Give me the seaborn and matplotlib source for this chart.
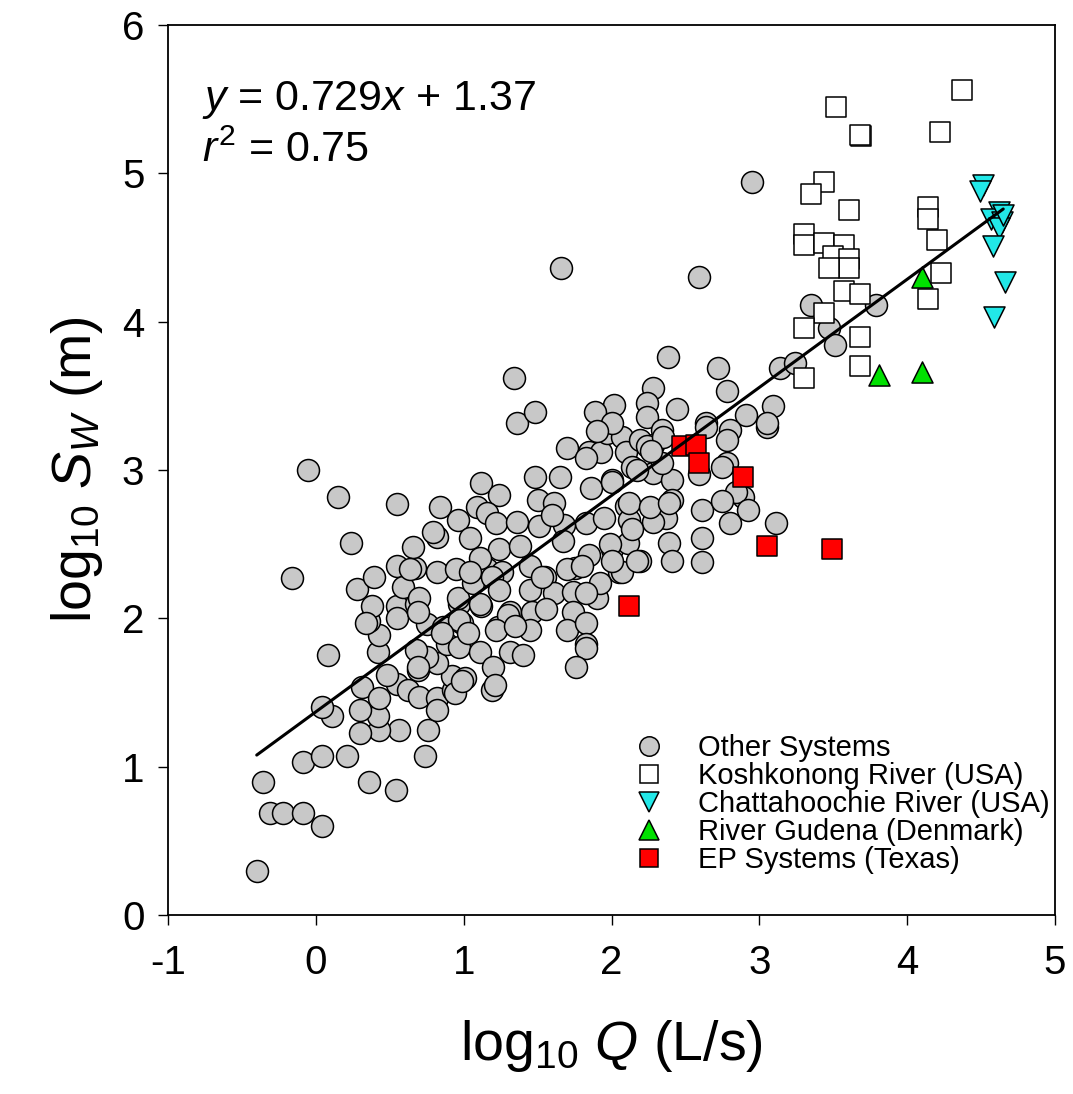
import matplotlib
matplotlib.use("Agg")
import matplotlib.pyplot as plt
from matplotlib.lines import Line2D
import numpy as np
import pandas as pd
import seaborn as sns

# ---- data (log10 Q, log10 Sw) ----
other_x = [-0.05, 0.15, 0.55, 0.24, -0.16, 0.84, 0.08, -0.36, -0.31, -0.22, -0.09, 0.04, -0.40,
           -0.09, 0.04, 0.21, 0.36, 0.54, 0.74, 0.76, 0.56, 0.43, 0.30, 0.42, 0.30, 0.11, 0.04,
           0.31, 0.43, 0.55, 0.62, 0.70, 0.82, 0.82, 0.93, 0.92, 0.82, 0.69, 0.75, 0.48, 0.42,
           0.43, 0.36, 0.38, 0.55, 0.55, 0.68, 0.75, 0.68, 0.86, 0.89, 0.97, 0.28, 0.39, 0.55,
           0.67, 0.66, 0.82, 0.79, 0.82, 0.95, 0.96, 0.59, 0.97, 0.99, 0.34, 0.64, 0.70, 0.69,
           0.97, 0.96, 1.06, 1.16, 1.26, 1.31, 1.23, 1.12, 1.11, 1.20, 1.31, 1.19, 0.94, 0.69,
           1.70, 1.85, 1.93, 1.83, 1.97, 2.07, 2.10, 1.12, 1.48, 1.65, 1.24, 1.09, 1.16, 1.22,
           1.36, 1.50, 1.61, 1.51, 1.68, 1.83, 1.86, 2.00, 2.10, 1.95, 2.12, 1.04, 1.24, 1.38,
           1.67, 1.85, 2.00, 2.11, 1.11, 1.04, 1.19, 1.45, 1.55, 1.75, 2.05, 1.11, 1.24, 1.45,
           1.61, 1.74, 1.90, 1.30, 1.46, 1.56, 1.74, 1.22, 1.45, 1.70, 1.83, 1.83,
           1.34, 1.36, 1.48, 2.38, 2.28, 2.24, 2.44, 2.02, 1.89, 2.00, 2.24, 1.90, 2.34, 2.28,
           2.19, 2.14, 2.28, 2.41, 2.41, 2.37, 2.28, 2.14, 2.39, 2.41, 2.19, 2.07, 1.83, 1.76,
           2.72, 2.78, 2.91, 2.80, 2.64, 2.24, 2.34, 2.78, 2.89, 2.61, 2.80, 2.61, 2.17, 2.12,
           2.26, 2.39, 1.60, 2.78, 3.05, 2.64, 2.75, 2.84, 2.59, 2.75, 2.92, 3.11, 2.61, 2.17,
           1.99, 2.00, 2.35, 2.27, 2.00, 2.95, 2.59, 3.35, 3.47, 3.51, 3.79, 3.14, 3.24, 3.09,
           3.05, 1.66, 1.92, 1.83, 1.70, 1.80, 1.53, 0.85, 1.03, 1.01, 1.21, 0.99, 1.40, 1.35]
other_y = [3.00, 2.82, 2.77, 2.51, 2.27, 2.75, 1.75, 0.90, 0.69, 0.69, 0.69, 0.60, 0.30,
           1.03, 1.07, 1.07, 0.90, 0.84, 1.07, 1.25, 1.25, 1.25, 1.23, 1.34, 1.38, 1.34, 1.40,
           1.54, 1.46, 1.56, 1.52, 1.47, 1.46, 1.38, 1.52, 1.61, 1.70, 1.65, 1.74, 1.62, 1.77,
           1.89, 1.98, 2.08, 2.08, 2.00, 2.10, 1.96, 1.79, 1.94, 1.83, 1.81, 2.20, 2.28, 2.35,
           2.34, 2.48, 2.55, 2.58, 2.31, 2.33, 2.66, 2.21, 2.10, 1.97, 1.97, 2.33, 2.14, 2.04,
           1.99, 2.14, 2.24, 2.33, 2.31, 2.04, 1.94, 2.08, 1.77, 1.67, 1.77, 1.52, 1.50, 1.67,
           3.15, 3.12, 3.12, 3.08, 3.25, 3.22, 3.12, 2.91, 2.95, 2.95, 2.83, 2.75, 2.71, 2.64,
           2.65, 2.80, 2.78, 2.62, 2.63, 2.64, 2.88, 2.93, 2.76, 2.68, 2.66, 2.54, 2.47, 2.49,
           2.52, 2.43, 2.47, 2.51, 2.41, 2.31, 2.28, 2.35, 2.28, 2.34, 2.31, 2.10, 2.19, 2.19,
           2.17, 2.18, 2.14, 2.02, 2.04, 2.06, 2.04, 1.92, 1.92, 1.92, 1.97, 1.83,
           3.62, 3.32, 3.39, 3.76, 3.55, 3.45, 3.41, 3.44, 3.39, 3.32, 3.36, 3.26, 3.27, 3.17,
           3.20, 3.02, 2.98, 2.93, 2.80, 2.68, 2.65, 2.60, 2.51, 2.39, 2.39, 2.31, 1.80, 1.67,
           3.69, 3.53, 3.37, 3.27, 3.32, 3.16, 3.05, 3.05, 2.82, 2.73, 2.64, 2.54, 3.00, 2.78,
           2.75, 2.78, 2.70, 3.20, 3.29, 3.29, 3.02, 2.85, 2.97, 2.79, 2.73, 2.64, 2.38, 2.39,
           2.50, 2.39, 3.22, 3.13, 2.92, 4.94, 4.30, 4.11, 3.96, 3.84, 4.11, 3.69, 3.72, 3.43,
           3.32, 4.36, 2.24, 2.17, 2.33, 2.35, 2.28, 1.90, 1.90, 1.60, 1.55, 1.58, 1.75, 1.95]

kosh_x = [4.37, 3.52, 3.69, 3.68, 4.22, 3.44, 3.35, 3.61, 4.14, 4.14, 4.20, 3.30, 3.30, 3.44,
          3.57, 3.50, 3.61, 3.61, 3.47, 4.23, 3.57, 3.68, 4.14, 3.44, 3.30, 3.68, 3.68, 3.30]
kosh_y = [5.56, 5.45, 5.25, 5.26, 5.28, 4.94, 4.86, 4.75, 4.77, 4.69, 4.55, 4.59, 4.52, 4.53,
          4.52, 4.44, 4.42, 4.36, 4.36, 4.33, 4.21, 4.19, 4.15, 4.06, 3.96, 3.90, 3.70, 3.62]

chatt_x = [4.51, 4.49, 4.62, 4.57, 4.64, 4.62, 4.65, 4.58, 4.66, 4.59]
chatt_y = [4.92, 4.88, 4.74, 4.69, 4.67, 4.63, 4.72, 4.51, 4.27, 4.03]

gudena_x = [4.10, 3.81, 4.10]
gudena_y = [4.30, 3.64, 3.66]

ep_x = [2.48, 2.57, 2.59, 2.89, 3.05, 3.49, 2.12]
ep_y = [3.16, 3.17, 3.05, 2.95, 2.49, 2.47, 2.08]

fit_slope = 0.729
fit_intercept = 1.37
fit_range = [-0.40, 4.65]

groups = ["Other Systems", "Koshkonong River (USA)", "Chattahoochie River (USA)",
          "River Gudena (Denmark)", "EP Systems (Texas)"]

df = pd.concat([
    pd.DataFrame({"x": other_x, "y": other_y, "group": groups[0]}),
    pd.DataFrame({"x": kosh_x, "y": kosh_y, "group": groups[1]}),
    pd.DataFrame({"x": chatt_x, "y": chatt_y, "group": groups[2]}),
    pd.DataFrame({"x": gudena_x, "y": gudena_y, "group": groups[3]}),
    pd.DataFrame({"x": ep_x, "y": ep_y, "group": groups[4]}),
], ignore_index=True)

# ---- style ----
sns.set_style("ticks")
plt.rcParams["font.family"] = ["Liberation Sans", "DejaVu Sans"]
plt.rcParams["mathtext.fontset"] = "custom"
plt.rcParams["mathtext.rm"] = "Liberation Sans"
plt.rcParams["mathtext.it"] = "Liberation Sans:italic"
plt.rcParams["axes.unicode_minus"] = False
for k in ["text.color", "axes.labelcolor", "xtick.color", "ytick.color", "axes.edgecolor"]:
    plt.rcParams[k] = "black"

styles = {
    groups[0]: dict(marker="o", color="#c8c8c8", s=250),
    groups[1]: dict(marker="s", color="white", s=205),
    groups[2]: dict(marker="v", color="#22e8e8", s=230),
    groups[3]: dict(marker="^", color="#00e000", s=230),
    groups[4]: dict(marker="s", color="#ff0000", s=205),
}

fig = plt.figure(figsize=(10.73, 10.94), dpi=100)
ax = fig.add_axes([0.1566, 0.1636, 0.8266, 0.8135])

for g in groups:
    st = styles[g]
    sns.scatterplot(data=df[df.group == g], x="x", y="y", marker=st["marker"],
                    color=st["color"], s=st["s"], edgecolor="black", linewidth=1.1,
                    ax=ax, zorder=3 if g != groups[0] else 2, legend=False)

xs = np.array(fit_range)
ax.plot(xs, fit_slope * xs + fit_intercept, color="black", lw=2.2, zorder=4)

ax.set_xlim(-1, 5)
ax.set_ylim(0, 6)
ax.set_xticks(range(-1, 6))
ax.set_yticks(range(0, 7))
ax.tick_params(axis="x", labelsize=29, length=7, width=1, direction="out", pad=14)
ax.tick_params(axis="y", labelsize=29, length=7, width=1, direction="out", pad=10)
for sp in ax.spines.values():
    sp.set_linewidth(1.3)

ax.set_xlabel(r"log$_{10}$ $\it{Q}$ (L/s)", fontsize=40, labelpad=26)
ax.set_ylabel(r"log$_{10}$ $\it{S_W}$ (m)", fontsize=40, labelpad=12)

ax.text(-0.77, 5.43, r"$\it{y}$ = 0.729$\it{x}$ + 1.37", fontsize=31)
ax.text(-0.77, 5.08, r"$\it{r}^2$ = 0.75", fontsize=31)

handles = [Line2D([], [], linestyle="none", marker=styles[g]["marker"],
                  markerfacecolor=styles[g]["color"], markeredgecolor="black",
                  markersize=14 if styles[g]["marker"] != "s" else 13, markeredgewidth=1.1)
           for g in groups]
ax.legend(handles, groups, loc="upper left", bbox_to_anchor=(0.509, 0.216),
          frameon=False, fontsize=21, handletextpad=1.1, labelspacing=0.0,
          borderaxespad=0, handlelength=1.2)

fig.savefig("out.png", dpi=100)
